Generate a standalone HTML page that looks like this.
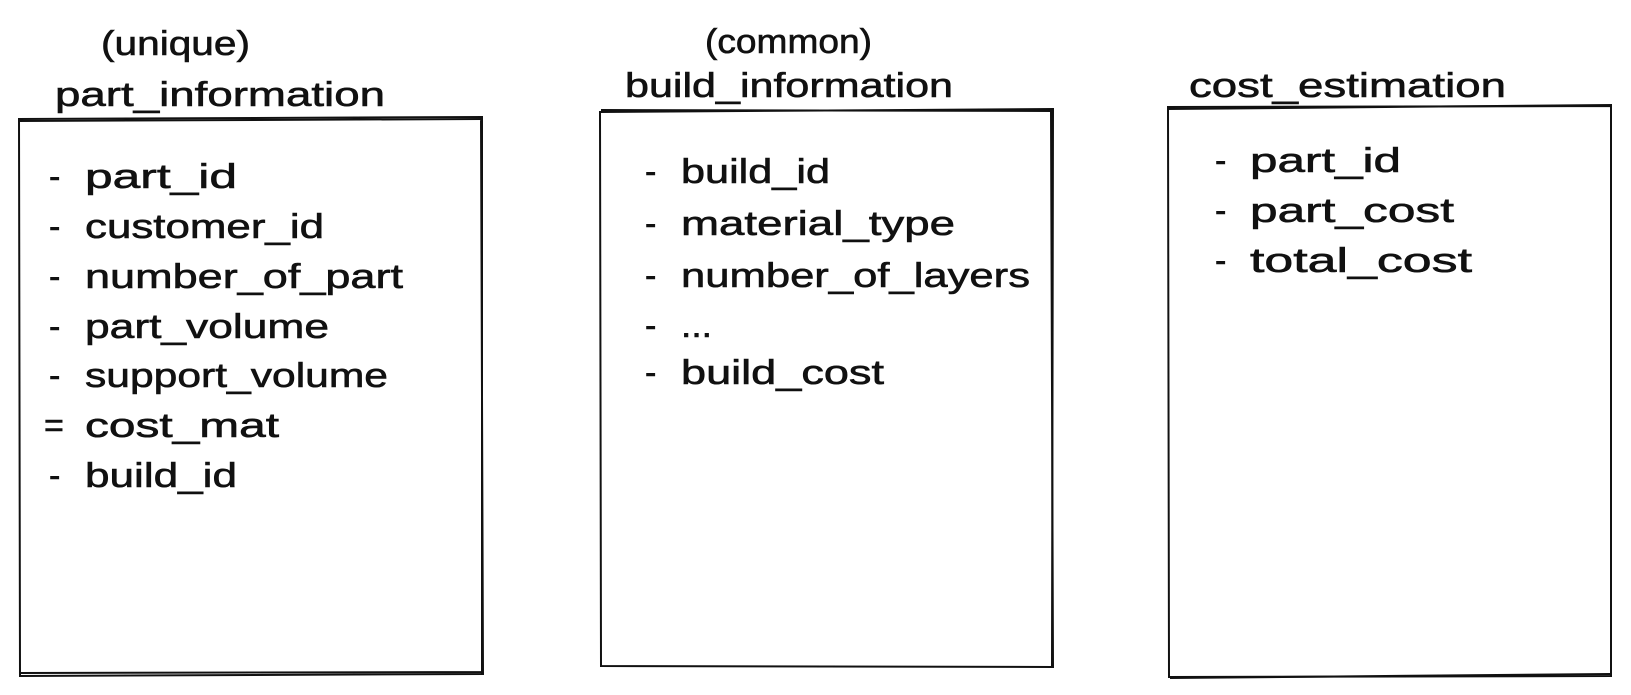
<!DOCTYPE html>
<html><head><meta charset="utf-8"><style>
html,body{margin:0;padding:0;background:#fff;}
svg{display:block;}
text{font-family:"Liberation Sans",sans-serif;font-size:34px;fill:#111;stroke:#111;stroke-width:0.6;}
</style></head><body>
<svg width="1631" height="695" viewBox="0 0 1631 695" xmlns="http://www.w3.org/2000/svg">
<g fill="none" stroke="#111" stroke-width="2">
<path d="M19 119 L482 117 L482 674 L20 676 Z"/>
<path d="M18 121 L483 119 M481 118 L483 675 M19 673 L483 672"/>
<path d="M600 112 L1053 109 L1052 667 L601 666 Z"/>
<path d="M601 110 L1054 111 M1051 110 L1053 668"/>
<path d="M1168 107 L1611 106 L1611 676 L1169 677 Z"/>
<path d="M1167 109 L1612 105 M1170 678 L1610 674"/>
</g>
<text x="101" y="55" textLength="149" lengthAdjust="spacingAndGlyphs">(unique)</text>
<text x="55" y="106" textLength="330" lengthAdjust="spacingAndGlyphs">part_information</text>
<text x="705" y="53" textLength="167" lengthAdjust="spacingAndGlyphs">(common)</text>
<text x="625" y="97" textLength="328" lengthAdjust="spacingAndGlyphs">build_information</text>
<text x="1189" y="97" textLength="317" lengthAdjust="spacingAndGlyphs">cost_estimation</text>
<g>
<text x="49" y="188">-</text><text x="85" y="188" textLength="152" lengthAdjust="spacingAndGlyphs">part_id</text>
<text x="49" y="238">-</text><text x="85" y="238" textLength="239" lengthAdjust="spacingAndGlyphs">customer_id</text>
<text x="49" y="288">-</text><text x="85" y="288" textLength="318" lengthAdjust="spacingAndGlyphs">number_of_part</text>
<text x="49" y="338">-</text><text x="85" y="338" textLength="244" lengthAdjust="spacingAndGlyphs">part_volume</text>
<text x="49" y="387">-</text><text x="85" y="387" textLength="303" lengthAdjust="spacingAndGlyphs">support_volume</text>
<text x="44" y="437">=</text><text x="85" y="437" textLength="194" lengthAdjust="spacingAndGlyphs">cost_mat</text>
<text x="49" y="487">-</text><text x="85" y="487" textLength="152" lengthAdjust="spacingAndGlyphs">build_id</text>
</g>
<g>
<text x="645" y="183">-</text><text x="681" y="183" textLength="149" lengthAdjust="spacingAndGlyphs">build_id</text>
<text x="645" y="235">-</text><text x="681" y="235" textLength="274" lengthAdjust="spacingAndGlyphs">material_type</text>
<text x="645" y="287">-</text><text x="681" y="287" textLength="349" lengthAdjust="spacingAndGlyphs">number_of_layers</text>
<text x="645" y="337">-</text><text x="681" y="337" textLength="31" lengthAdjust="spacingAndGlyphs">...</text>
<text x="645" y="384">-</text><text x="681" y="384" textLength="203" lengthAdjust="spacingAndGlyphs">build_cost</text>
</g>
<g>
<text x="1215" y="172">-</text><text x="1250" y="172" textLength="151" lengthAdjust="spacingAndGlyphs">part_id</text>
<text x="1215" y="222">-</text><text x="1250" y="222" textLength="204" lengthAdjust="spacingAndGlyphs">part_cost</text>
<text x="1215" y="272">-</text><text x="1250" y="272" textLength="222" lengthAdjust="spacingAndGlyphs">total_cost</text>
</g>
</svg>
</body></html>
